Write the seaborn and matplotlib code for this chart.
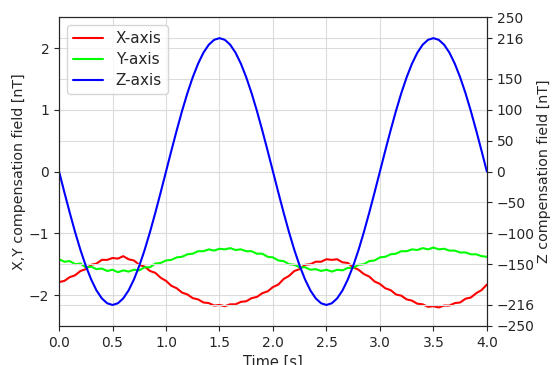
import numpy as np
import pandas as pd
import matplotlib
matplotlib.use("Agg")
import matplotlib.pyplot as plt
import seaborn as sns

# sample times [s]
time_s = np.linspace(0.0, 4.0, 81)

# X,Y compensation field [nT]
x_field = [
    -1.79, -1.77, -1.71, -1.68, -1.61, -1.58, -1.51, -1.49, -1.43, -1.43,
    -1.40, -1.41, -1.37, -1.42, -1.44, -1.51, -1.54, -1.61, -1.64, -1.72,
    -1.77, -1.85, -1.89, -1.96, -1.99, -2.05, -2.07, -2.12, -2.13, -2.17,
    -2.16, -2.18, -2.15, -2.15, -2.11, -2.10, -2.05, -2.03, -1.97, -1.94,
    -1.87, -1.83, -1.74, -1.69, -1.61, -1.58, -1.51, -1.50, -1.46, -1.46,
    -1.42, -1.43, -1.42, -1.47, -1.48, -1.55, -1.59, -1.66, -1.70, -1.78,
    -1.82, -1.89, -1.92, -1.99, -2.01, -2.07, -2.09, -2.14, -2.15, -2.19,
    -2.18, -2.20, -2.17, -2.17, -2.13, -2.12, -2.06, -2.04, -1.97, -1.92, -1.83,
]
y_field = [
    -1.42, -1.46, -1.45, -1.50, -1.49, -1.55, -1.54, -1.58, -1.57, -1.61,
    -1.59, -1.63, -1.60, -1.62, -1.59, -1.60, -1.55, -1.55, -1.49, -1.48,
    -1.44, -1.43, -1.39, -1.38, -1.34, -1.33, -1.29, -1.29, -1.26, -1.28,
    -1.25, -1.26, -1.24, -1.27, -1.26, -1.29, -1.29, -1.33, -1.33, -1.38,
    -1.39, -1.44, -1.45, -1.50, -1.51, -1.55, -1.55, -1.59, -1.58, -1.61,
    -1.59, -1.62, -1.59, -1.60, -1.56, -1.56, -1.51, -1.50, -1.45, -1.44,
    -1.39, -1.38, -1.34, -1.33, -1.29, -1.29, -1.26, -1.27, -1.24, -1.26,
    -1.23, -1.26, -1.25, -1.28, -1.28, -1.31, -1.31, -1.34, -1.34, -1.37, -1.38,
]
# Z compensation field [nT]
z_field = [
    0.0, -33.8, -66.7, -98.1, -127.0, -152.7, -174.7, -192.5, -205.4, -213.3,
    -216.0, -213.3, -205.4, -192.5, -174.7, -152.7, -127.0, -98.1, -66.7, -33.8,
    0.0, 33.8, 66.7, 98.1, 127.0, 152.7, 174.7, 192.5, 205.4, 213.3,
    216.0, 213.3, 205.4, 192.5, 174.7, 152.7, 127.0, 98.1, 66.7, 33.8,
    0.0, -33.8, -66.7, -98.1, -127.0, -152.7, -174.7, -192.5, -205.4, -213.3,
    -216.0, -213.3, -205.4, -192.5, -174.7, -152.7, -127.0, -98.1, -66.7, -33.8,
    0.0, 33.8, 66.7, 98.1, 127.0, 152.7, 174.7, 192.5, 205.4, 213.3,
    216.0, 213.3, 205.4, 192.5, 174.7, 152.7, 127.0, 98.1, 66.7, 33.8, 0.0,
]

xy_ticks = [-2, -1, 0, 1, 2]
z_ticks = [-250, -216, -150, -100, -50, 0, 50, 100, 150, 216, 250]
time_ticks = [0.0, 0.5, 1.0, 1.5, 2.0, 2.5, 3.0, 3.5, 4.0]


def main():
    df = pd.DataFrame({"t": time_s, "X": x_field, "Y": y_field, "Z": z_field})

    sns.set_style("ticks")
    plt.rcParams["font.family"] = ["DejaVu Sans"]

    fig, ax = plt.subplots(figsize=(5.52, 3.65), dpi=100)
    fig.subplots_adjust(left=0.107, right=0.882, top=0.953, bottom=0.107)
    ax2 = ax.twinx()

    sns.lineplot(data=df, x="t", y="X", ax=ax, color="#ff0000", lw=1.6, label="X-axis")
    sns.lineplot(data=df, x="t", y="Y", ax=ax, color="#00ff00", lw=1.6, label="Y-axis")
    sns.lineplot(data=df, x="t", y="Z", ax=ax2, color="#0000ff", lw=1.3, label="Z-axis")

    ax.set_xlim(0, 4)
    ax.set_ylim(-2.5, 2.5)
    ax2.set_ylim(-250, 250)
    ax.set_xticks(time_ticks)
    ax.set_yticks(xy_ticks)
    ax2.set_yticks(z_ticks)
    ax.tick_params(labelsize=10)
    ax2.tick_params(labelsize=10)

    ax.grid(True, color="#dcdcdc", lw=0.8)
    ax2.grid(True, axis="y", color="#dcdcdc", lw=0.8)
    ax.set_axisbelow(True)
    ax2.set_axisbelow(True)

    ax.set_xlabel("Time [s]", fontsize=10.5)
    ax.set_ylabel("X,Y compensation field [nT]", fontsize=10.3, labelpad=2)
    ax2.set_ylabel("Z compensation field [nT]", fontsize=10.3, labelpad=2)

    h1, l1 = ax.get_legend_handles_labels()
    h2, l2 = ax2.get_legend_handles_labels()
    ax.get_legend().remove()
    for h in h1 + h2:
        h.set_linewidth(1.5)
    ax2.legend(h1 + h2, l1 + l2, loc="upper left", fontsize=11, labelspacing=0.4)

    fig.savefig("out.png", dpi=100)
    plt.close(fig)


if __name__ == "__main__":
    main()
